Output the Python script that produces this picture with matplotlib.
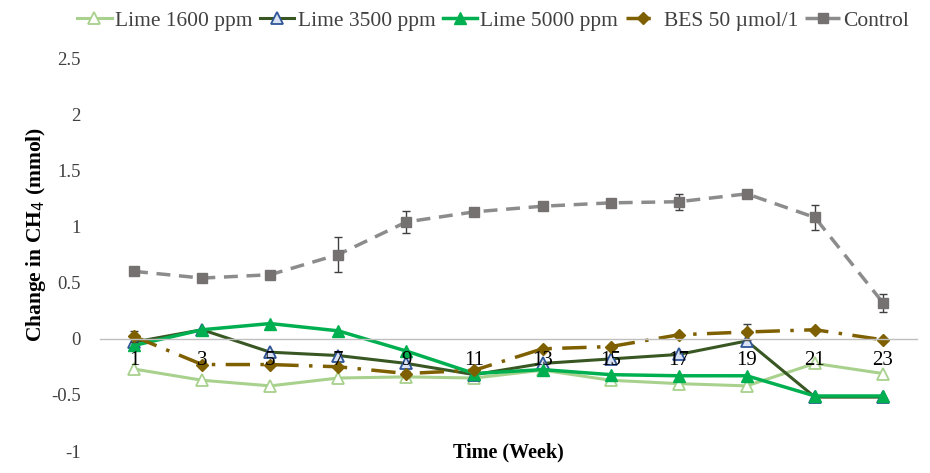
import matplotlib
matplotlib.use("Agg")
import matplotlib.pyplot as plt
import numpy as np

weeks = ["1", "3", "5", "7", "9", "11", "13", "15", "17", "19", "21", "23"]

lime1600 = [-0.27, -0.37, -0.42, -0.35, -0.34, -0.35, -0.28, -0.37, -0.40, -0.42, -0.22, -0.31]
lime3500 = [-0.03, 0.08, -0.12, -0.15, -0.22, -0.32, -0.22, -0.18, -0.14, -0.02, -0.52, -0.52]
lime5000 = [-0.06, 0.08, 0.135, 0.07, -0.11, -0.31, -0.275, -0.32, -0.33, -0.33, -0.51, -0.51]
bes = [0.02, -0.23, -0.23, -0.25, -0.31, -0.28, -0.09, -0.07, 0.035, 0.06, 0.08, -0.01]
bes_err = [0.05, 0.02, 0.02, 0.0, 0.02, 0.0, 0.0, 0.0, 0.0, 0.075, 0.0, 0.0]
control = [0.60, 0.54, 0.57, 0.75, 1.04, 1.13, 1.18, 1.21, 1.22, 1.29, 1.08, 0.32]
control_err = [0.0, 0.0, 0.03, 0.16, 0.10, 0.0, 0.0, 0.03, 0.07, 0.0, 0.11, 0.08]

plt.rcParams['font.family'] = ['Liberation Serif', 'DejaVu Serif']

fig = plt.figure(figsize=(9.3, 4.73), dpi=100)
ax = fig.add_axes([100/930, 1 - 451/473, (917 - 100)/930, (451 - 58)/473])

x = np.arange(len(weeks))

h1, = ax.plot(x, lime1600, color='#a9d18e', lw=2.2, marker='^', ms=8,
              mfc='white', mec='#a9d18e', mew=1.3, label='Lime 1600 ppm', zorder=2)
h2, = ax.plot(x, lime3500, color='#385723', lw=2.2, marker='^', ms=8,
              mfc='#dae3f3', mec='#2f5597', mew=1.3, label='Lime 3500 ppm', zorder=2)
h3, = ax.plot(x, lime5000, color='#00b050', lw=2.5, marker='^', ms=8,
              mfc='#00b050', mec='#00b050', label='Lime 5000 ppm', zorder=2)
eb4 = ax.errorbar(x, bes, yerr=bes_err, color='#7f6000', lw=2.5, ls=(0, (7, 3, 1, 3)),
                  marker='D', ms=6.5, mfc='#7f6000', mec='#7f6000', ecolor='#404040',
                  elinewidth=1, capsize=3, label='BES 50 µmol/1', zorder=2)
eb5 = ax.errorbar(x, control, yerr=control_err, color='#8c8c8c', lw=2.5, ls=(0, (4, 2.5)),
                  marker='s', ms=7.5, mfc='#767171', mec='#767171', ecolor='#404040',
                  elinewidth=1, capsize=3, label='Control', zorder=2)

ax.set_xlim(-0.5, len(weeks) - 0.5)
ax.set_ylim(-1, 2.5)
ax.set_yticks([-1, -0.5, 0, 0.5, 1, 1.5, 2, 2.5])
ax.set_yticklabels(['-1', '-0.5', '0', '0.5', '1', '1.5', '2', '2.5'])
ax.set_xticks(x)
ax.set_xticklabels(weeks)

for s in ['top', 'right', 'left']:
    ax.spines[s].set_visible(False)
ax.spines['bottom'].set_position(('data', 0))
ax.spines['bottom'].set_color('#bfbfbf')
ax.spines['bottom'].set_linewidth(1)
ax.tick_params(axis='both', length=0)
ax.tick_params(axis='x', pad=9, labelsize=15, labelcolor='black')
ax.tick_params(axis='y', pad=14, labelsize=13.5, labelcolor='#404040')
ax.set_axisbelow(False)

ax.set_ylabel('Change in CH$_4$ (mmol)', fontsize=15.5, fontweight='bold')
ax.yaxis.set_label_coords(-52/817, (451 - 234) / 393)
fig.text(508/930, 1 - 452/473, 'Time (Week)', ha='center', va='center',
         fontsize=14.5, fontweight='bold')

handles = [h1, h2, h3, eb4[0], eb5[0]]
labels = ['Lime 1600 ppm', 'Lime 3500 ppm', 'Lime 5000 ppm', 'BES 50 µmol/1', 'Control']
leg = fig.legend(handles, labels, loc='upper center', bbox_to_anchor=(493/930, 1.0), ncol=5,
                 frameon=False, fontsize=15.5, handlelength=1.6, handletextpad=0.15,
                 columnspacing=0.35, borderaxespad=0.1)
for t in leg.get_texts():
    t.set_color('#404040')

fig.savefig('out.png', dpi=100)
